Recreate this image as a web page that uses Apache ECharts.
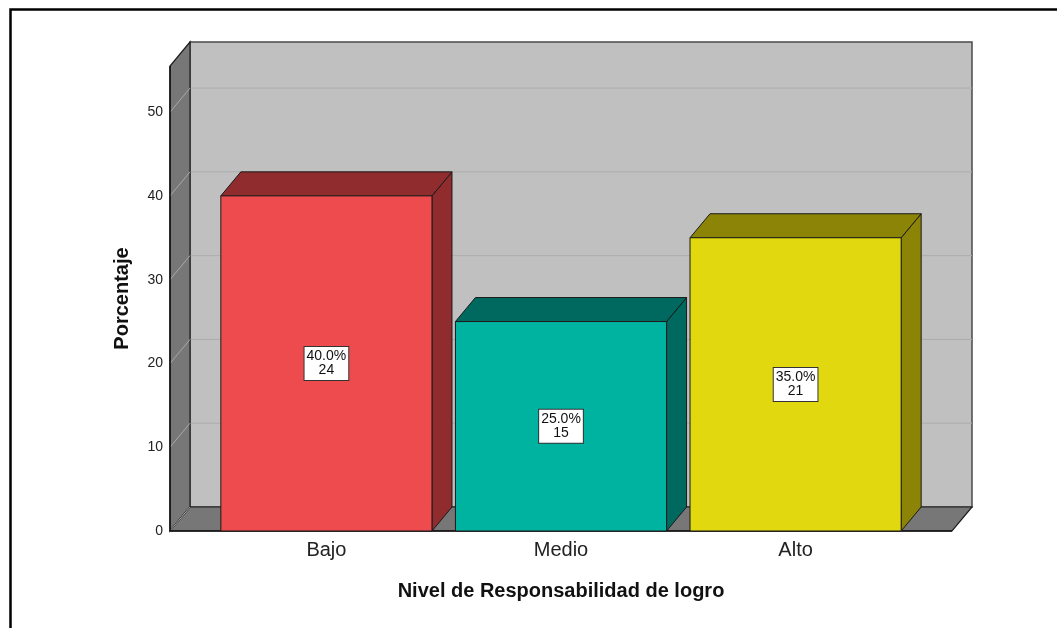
<!DOCTYPE html>
<html>
<head>
<meta charset="utf-8">
<title>Nivel de Responsabilidad de logro</title>
<script src="https://cdn.jsdelivr.net/npm/echarts@6/dist/echarts.min.js"></script>
<style>
  html, body { margin: 0; padding: 0; background: #fff; }
  #chart { width: 1057px; height: 628px; }
</style>
</head>
<body>
<div id="chart"></div>
<script>
// Categories and values
const categories = ['Bajo', 'Medio', 'Alto'];
const percents = [40.0, 25.0, 35.0];
const counts = [24, 15, 21];
const yTicks = [0, 10, 20, 30, 40, 50];

// Fill colours: front faces and the darker top/side faces
const frontColors = ['#EE4B4E', '#00B3A0', '#E2D810'];
const shadeColors = ['#912C2E', '#00695F', '#8B8407'];

// 3D depth offset of the box, in pixels
const DX = 20, DY = -24;
const X_MIN = -2 / 3, X_MAX = 8 / 3, Y_MAX = 55.5;
const BAR_HALF = 0.45;
const FONT = '"Liberation Sans", Arial, sans-serif';

const chart = echarts.init(document.getElementById('chart'), null, { renderer: 'canvas' });

function renderFrame(params, api) {
  const fl = api.coord([X_MIN, 0]);
  const fr = api.coord([X_MAX, 0]);
  const tl = api.coord([X_MIN, Y_MAX]);
  const left = fl[0], right = fr[0], bottom = fl[1], top = tl[1];
  const children = [];
  // back wall
  children.push({
    type: 'rect',
    shape: { x: left + DX, y: top + DY, width: right - left, height: bottom - top },
    style: { fill: '#C0C0C0', stroke: '#4a4a4a', lineWidth: 1.5 }
  });
  // gridlines on back wall
  yTicks.forEach(v => {
    if (v === 0) return;
    const y = api.coord([X_MIN, v])[1];
    children.push({
      type: 'line',
      shape: { x1: left + DX, y1: y + DY, x2: right + DX, y2: y + DY },
      style: { stroke: '#ADADAD', lineWidth: 1 }
    });
  });
  // left side wall
  children.push({
    type: 'polygon',
    shape: { points: [[left, bottom], [left, top], [left + DX, top + DY], [left + DX, bottom + DY]] },
    style: { fill: '#777777', stroke: '#1e1e1e', lineWidth: 1.2 }
  });
  // floor
  children.push({
    type: 'polygon',
    shape: { points: [[left, bottom], [right, bottom], [right + DX, bottom + DY], [left + DX, bottom + DY]] },
    style: { fill: '#777777', stroke: '#1e1e1e', lineWidth: 1.2 }
  });
  // gridlines across the side wall
  yTicks.forEach(v => {
    const y = api.coord([X_MIN, v])[1];
    children.push({
      type: 'line',
      shape: { x1: left, y1: y, x2: left + DX, y2: y + DY },
      style: { stroke: '#A8A8A8', lineWidth: 1 }
    });
  });
  // front edges
  children.push({
    type: 'line',
    shape: { x1: left, y1: bottom, x2: right, y2: bottom },
    style: { stroke: '#111', lineWidth: 1.5 }
  });
  children.push({
    type: 'line',
    shape: { x1: left, y1: bottom, x2: left, y2: top },
    style: { stroke: '#111', lineWidth: 1.5 }
  });
  return { type: 'group', children };
}

function renderBar(params, api) {
  const i = api.value(0);
  const pct = api.value(1);
  const cnt = api.value(2);
  const a = api.coord([i - BAR_HALF, 0]);
  const b = api.coord([i + BAR_HALF, pct]);
  const xl = a[0], yb = a[1], xr = b[0], yt = b[1];
  const stroke = { stroke: '#1a1a1a', lineWidth: 1 };
  return {
    type: 'group',
    children: [
      {
        type: 'polygon',
        shape: { points: [[xr, yt], [xr + DX, yt + DY], [xr + DX, yb + DY], [xr, yb]] },
        style: Object.assign({ fill: shadeColors[i] }, stroke)
      },
      {
        type: 'polygon',
        shape: { points: [[xl, yt], [xr, yt], [xr + DX, yt + DY], [xl + DX, yt + DY]] },
        style: Object.assign({ fill: shadeColors[i] }, stroke)
      },
      {
        type: 'rect',
        shape: { x: xl, y: yt, width: xr - xl, height: yb - yt },
        style: Object.assign({ fill: frontColors[i] }, stroke)
      },
      {
        type: 'text',
        x: (xl + xr) / 2,
        y: (yt + yb) / 2,
        style: {
          text: pct.toFixed(1) + '%\n' + cnt,
          align: 'center',
          verticalAlign: 'middle',
          fill: '#111',
          font: '14px ' + FONT,
          lineHeight: 14,
          backgroundColor: '#ffffff',
          borderColor: '#333',
          borderWidth: 1,
          padding: [3, 2, 2, 2]
        }
      }
    ]
  };
}

const option = {
  backgroundColor: '#ffffff',
  animation: false,
  textStyle: { fontFamily: FONT },
  graphic: [{
    type: 'rect',
    left: 8, top: 7,
    shape: { x: 0, y: 0, width: 1080, height: 660 },
    style: { fill: 'none', stroke: '#000', lineWidth: 2.5 },
    z: 100
  }],
  grid: { left: 170, right: 105, top: 66, bottom: 97, containLabel: false },
  xAxis: {
    type: 'value',
    min: X_MIN,
    max: X_MAX,
    name: 'Nivel de Responsabilidad de logro',
    nameLocation: 'middle',
    nameGap: 50,
    nameTextStyle: { fontSize: 20, fontWeight: 'bold', color: '#111' },
    axisLine: { show: false },
    axisTick: { show: false },
    splitLine: { show: false },
    axisLabel: {
      customValues: [0, 1, 2],
      formatter: v => categories[Math.round(v)],
      fontSize: 20,
      color: '#222',
      margin: 9
    }
  },
  yAxis: {
    type: 'value',
    min: 0,
    max: Y_MAX,
    interval: 10,
    name: 'Porcentaje',
    nameLocation: 'middle',
    nameGap: 38,
    nameRotate: 90,
    nameTextStyle: { fontSize: 20, fontWeight: 'bold', color: '#111' },
    axisLine: { show: false },
    axisTick: { show: false },
    splitLine: { show: false },
    axisLabel: {
      customValues: yTicks,
      fontSize: 14,
      color: '#222',
      margin: 7
    }
  },
  series: [
    {
      type: 'custom',
      renderItem: renderFrame,
      data: [[0, 0]],
      clip: false,
      silent: true,
      z: 1
    },
    {
      type: 'custom',
      renderItem: renderBar,
      encode: { x: 0, y: 1 },
      data: categories.map((c, i) => [i, percents[i], counts[i]]),
      clip: false,
      z: 2
    }
  ]
};

chart.setOption(option);
</script>
</body>
</html>
